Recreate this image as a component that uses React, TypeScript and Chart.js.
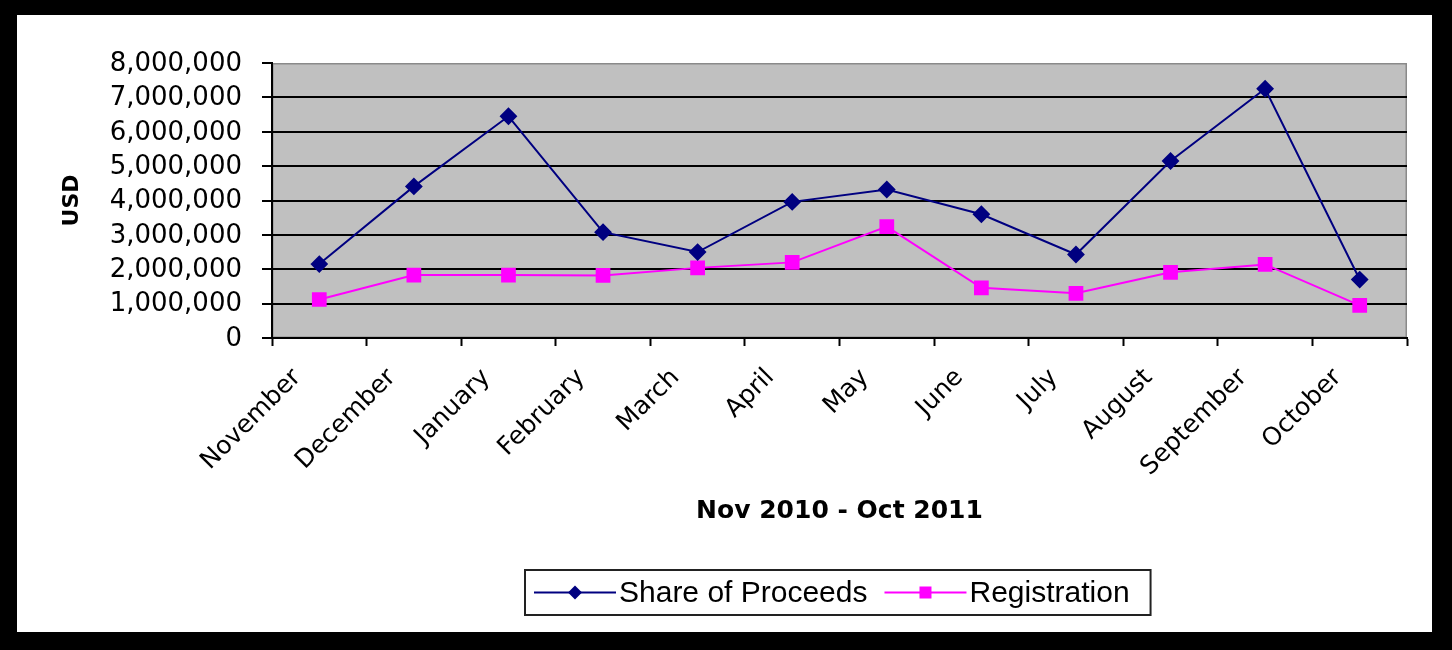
import React, { useEffect, useRef } from 'react';
import { Chart, registerables } from 'chart.js';

Chart.register(...registerables);

const months = [
  'November', 'December', 'January', 'February', 'March', 'April',
  'May', 'June', 'July', 'August', 'September', 'October',
];
const shareOfProceeds = [
  2150000, 4410000, 6450000, 3080000, 2500000, 3960000,
  4320000, 3600000, 2430000, 5150000, 7250000, 1700000,
];
const registration = [
  1120000, 1830000, 1830000, 1820000, 2040000, 2200000,
  3240000, 1460000, 1300000, 1910000, 2140000, 950000,
];
const yMin = 0;
const yMax = 8000000;
const yStep = 1000000;
const xTitle = 'Nov 2010 - Oct 2011';
const yTitle = 'USD';
const seriesNames = ['Share of Proceeds', 'Registration'];

const FONT = "'DejaVu Sans', sans-serif";

const plotBg = {
  id: 'plotBg',
  beforeDraw(chart: any) {
    const { ctx, chartArea: a } = chart;
    ctx.save();
    ctx.fillStyle = '#C0C0C0';
    ctx.fillRect(a.left, a.top, a.right - a.left, a.bottom - a.top);
    ctx.strokeStyle = '#8a8a8a';
    ctx.lineWidth = 1.5;
    ctx.strokeRect(a.left + 0.75, a.top + 0.75, a.right - a.left - 1.5, a.bottom - a.top - 1.5);
    ctx.restore();
  },
};

const boxLegend = {
  id: 'boxLegend',
  afterDraw(chart: any) {
    const { ctx, chartArea: a } = chart;
    ctx.save();
    ctx.font = "30px 'Liberation Sans', Arial, sans-serif";
    const lineLen = 82;
    const gap = 3;
    const itemGap = 17;
    const padL = 9;
    const padR = 18;
    const boxH = 45;
    const top = chart.height - 62;
    const items = chart.data.datasets.map((ds: any) => ({
      ds,
      w: ctx.measureText(ds.label).width,
    }));
    let total = padL + padR + itemGap * (items.length - 1);
    items.forEach((it: any) => { total += lineLen + gap + it.w; });
    const cx = (a.left + a.right) / 2;
    let x = Math.round(cx - total / 2) - 3;
    ctx.strokeStyle = '#222';
    ctx.lineWidth = 2;
    ctx.strokeRect(x, top, total + 3, boxH);
    const cy = top + boxH / 2;
    x += padL;
    items.forEach((it: any) => {
      const ds = it.ds;
      ctx.strokeStyle = ds.borderColor;
      ctx.lineWidth = 2;
      ctx.beginPath();
      ctx.moveTo(x, cy);
      ctx.lineTo(x + lineLen, cy);
      ctx.stroke();
      const mx = x + lineLen / 2;
      ctx.fillStyle = ds.pointBackgroundColor;
      if (ds.pointStyle === 'rectRot') {
        const r = 7;
        ctx.beginPath();
        ctx.moveTo(mx, cy - r);
        ctx.lineTo(mx + r, cy);
        ctx.lineTo(mx, cy + r);
        ctx.lineTo(mx - r, cy);
        ctx.closePath();
        ctx.fill();
      } else {
        const s = 6;
        ctx.fillRect(mx - s, cy - s, 2 * s, 2 * s);
      }
      x += lineLen + gap;
      ctx.fillStyle = '#000';
      ctx.textAlign = 'left';
      ctx.textBaseline = 'middle';
      ctx.fillText(ds.label, x, cy + 1);
      x += it.w + itemGap;
    });
    ctx.restore();
  },
};

export default function App() {
  const ref = useRef<HTMLCanvasElement | null>(null);

  useEffect(() => {
    if (!ref.current) return;
    const chart = new Chart(ref.current, {
      type: 'line',
      data: {
        labels: months,
        datasets: [
          {
            label: seriesNames[0],
            data: shareOfProceeds,
            borderColor: '#000080',
            backgroundColor: '#000080',
            pointBackgroundColor: '#000080',
            pointBorderColor: '#000080',
            pointStyle: 'rectRot',
            pointRadius: 7.5,
            borderWidth: 2,
            tension: 0,
          },
          {
            label: seriesNames[1],
            data: registration,
            borderColor: '#FF00FF',
            backgroundColor: '#FF00FF',
            pointBackgroundColor: '#FF00FF',
            pointBorderColor: '#FF00FF',
            pointStyle: 'rect',
            pointRadius: 9,
            borderWidth: 2,
            tension: 0,
          },
        ],
      },
      options: {
        responsive: false,
        animation: false,
        layout: { padding: { top: 48, right: 25, bottom: 106, left: 0 } },
        plugins: {
          legend: { display: false },
          tooltip: { enabled: false },
        },
        scales: {
          x: {
            offset: true,
            grid: {
              display: true,
              drawOnChartArea: false,
              drawTicks: true,
              tickLength: 8,
              tickColor: '#000',
              tickWidth: 2,
              offset: true,
            },
            border: { color: '#000', width: 2 },
            ticks: {
              color: '#000',
              font: { size: 25, family: FONT },
              minRotation: 45,
              maxRotation: 45,
              autoSkip: false,
              padding: 17,
              labelOffset: -22,
            },
            title: {
              display: true,
              text: xTitle,
              color: '#000',
              font: { size: 25, weight: 'bold', family: FONT },
              padding: 0,
            },
            afterFit: (s: any) => { s.height = 188; },
          },
          y: {
            min: yMin,
            max: yMax,
            ticks: {
              stepSize: yStep,
              color: '#000',
              font: { size: 26, family: FONT },
              padding: 20,
              labelOffset: 1,
              callback: (v: any) => Number(v).toLocaleString('en-US'),
            },
            grid: {
              color: (c: any) => (c.tick && c.tick.value === yMax ? 'rgba(0,0,0,0)' : '#000'),
              lineWidth: 2,
              tickLength: 10,
              tickColor: '#000',
              tickWidth: 2,
            },
            border: { color: '#000', width: 2 },
            title: {
              display: true,
              text: yTitle,
              color: '#000',
              font: { size: 22, weight: 'bold', family: FONT },
              padding: { top: 42, bottom: 0 },
            },
            afterFit: (s: any) => { s.width = 255; },
          },
        },
      } as any,
      plugins: [plotBg, boxLegend],
    });
    return () => chart.destroy();
  }, []);

  return (
    <div style={{ position: 'fixed', inset: 0, background: '#000' }}>
      <div
        style={{
          position: 'absolute', left: 17, top: 15, width: 1415, height: 617, background: '#fff',
        }}
      >
        <canvas ref={ref} width={1415} height={617} style={{ display: 'block' }} />
      </div>
    </div>
  );
}
